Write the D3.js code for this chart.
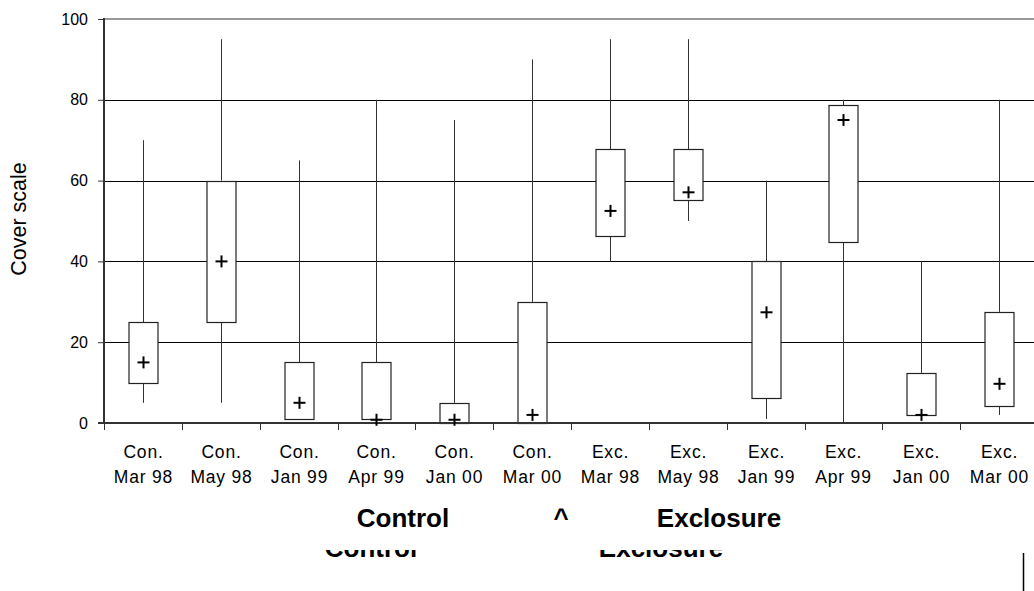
<!DOCTYPE html>
<html>
<head>
<meta charset="utf-8">
<script src="https://cdn.jsdelivr.net/npm/d3@7"></script>
<style>
	body { margin: 0; background: #fff; }
	svg { display: block; font-family: "Liberation Sans", Arial, sans-serif; }
</style>
</head>
<body>
<div id="chart"></div>
<script>
// one entry per box
const sites = ['Con.', 'Con.', 'Con.', 'Con.', 'Con.', 'Con.', 'Exc.', 'Exc.', 'Exc.', 'Exc.', 'Exc.', 'Exc.'];
const dates = ['Mar 98', 'May 98', 'Jan 99', 'Apr 99', 'Jan 00', 'Mar 00', 'Mar 98', 'May 98', 'Jan 99', 'Apr 99', 'Jan 00', 'Mar 00'];
const maxVals = [70, 95, 65, 80, 75, 90, 95, 95, 60, 80, 40, 80];
const q3Vals = [25, 60, 15, 15, 5, 30, 67.7, 67.7, 40, 78.6, 12.4, 27.5];
const q1Vals = [10, 25, 1, 1, 0, 0, 46.4, 55.2, 6.3, 44.7, 2.1, 4.1];
const minVals = [5, 5, 1, 1, 0, 0, 40, 50, 1, 0, 2.1, 2];
const meanVals = [15, 40, 5, 0.8, 0.8, 2, 52.5, 57.1, 27.4, 75, 2, 9.7];
const yTicks = [0, 20, 40, 60, 80, 100];

const width = 1034;
const height = 591;

function buildData() {
	return sites.map((s, i) => ({
		id: i,
		site: s,
		date: dates[i],
		max: maxVals[i],
		q3: q3Vals[i],
		q1: q1Vals[i],
		min: minVals[i],
		mean: meanVals[i]
	}));
}

function drawChart(data) {
	const svg = d3.select('#chart').append('svg')
		.attr('width', width)
		.attr('height', height);

	const x = d3.scaleBand()
		.domain(data.map(d => d.id))
		.range([104, 1038])
		.padding(0);

	const y = d3.scaleLinear()
		.domain([0, 100])
		.range([423, 19]);

	const cx = d => Math.round(x(d.id) + x.bandwidth() / 2) + 0.5;
	const boxW = 29;

	// gridlines
	svg.append('g')
		.selectAll('line')
		.data(yTicks.filter(t => t > 0 && t < 100))
		.enter().append('line')
		.attr('x1', 104).attr('x2', width)
		.attr('y1', d => Math.round(y(d)) + 0.5)
		.attr('y2', d => Math.round(y(d)) + 0.5)
		.attr('stroke', '#000')
		.attr('stroke-width', 1);

	// top border of plot area
	svg.append('line')
		.attr('x1', 104).attr('x2', width)
		.attr('y1', y(100)).attr('y2', y(100))
		.attr('stroke', '#999')
		.attr('stroke-width', 2);

	// whiskers
	const whisk = svg.append('g').attr('stroke', '#333').attr('stroke-width', 1);
	whisk.selectAll('.upper')
		.data(data.filter(d => d.max > d.q3))
		.enter().append('line')
		.attr('class', 'upper')
		.attr('x1', cx).attr('x2', cx)
		.attr('y1', d => y(d.max)).attr('y2', d => y(d.q3));
	whisk.selectAll('.lower')
		.data(data.filter(d => d.min < d.q1))
		.enter().append('line')
		.attr('class', 'lower')
		.attr('x1', cx).attr('x2', cx)
		.attr('y1', d => y(d.q1)).attr('y2', d => y(d.min));

	// boxes
	svg.append('g')
		.selectAll('rect')
		.data(data)
		.enter().append('rect')
		.attr('x', d => cx(d) - boxW / 2)
		.attr('y', d => Math.round(y(d.q3)) + 0.5)
		.attr('width', boxW)
		.attr('height', d => Math.round(y(d.q1)) - Math.round(y(d.q3)))
		.attr('fill', '#fff')
		.attr('stroke', '#222')
		.attr('stroke-width', 1.2);

	// axes
	const yAxis = svg.append('g')
		.attr('transform', 'translate(104,0)')
		.call(d3.axisLeft(y).tickValues(yTicks).tickSize(6).tickPadding(10).tickFormat(d3.format('d')));
	yAxis.select('.domain').remove();
	yAxis.selectAll('.tick line').attr('stroke', '#333');
	yAxis.selectAll('.tick text')
		.attr('font-size', 16)
		.attr('font-family', '"Liberation Sans", Arial, sans-serif')
		.attr('fill', '#000');

	const xAxis = svg.append('g')
		.attr('transform', 'translate(0,423)');
	xAxis.selectAll('line')
		.data(d3.range(data.length + 1))
		.enter().append('line')
		.attr('x1', i => Math.round(104 + i * x.step()) + 0.5)
		.attr('x2', i => Math.round(104 + i * x.step()) + 0.5)
		.attr('y1', 0).attr('y2', 7)
		.attr('stroke', '#333');

	svg.append('line')
		.attr('x1', 104).attr('x2', 104)
		.attr('y1', y(100) - 1).attr('y2', y(0) + 1)
		.attr('stroke', '#333')
		.attr('stroke-width', 2);
	svg.append('line')
		.attr('x1', 98).attr('x2', width)
		.attr('y1', y(0)).attr('y2', y(0))
		.attr('stroke', '#333')
		.attr('stroke-width', 2);

	// means
	const plus = svg.append('g').attr('stroke', '#000').attr('stroke-width', 2);
	plus.selectAll('.h')
		.data(data)
		.enter().append('line')
		.attr('x1', d => cx(d) - 6).attr('x2', d => cx(d) + 6)
		.attr('y1', d => y(d.mean)).attr('y2', d => y(d.mean));
	plus.selectAll('.v')
		.data(data)
		.enter().append('line')
		.attr('x1', cx).attr('x2', cx)
		.attr('y1', d => y(d.mean) - 6).attr('y2', d => y(d.mean) + 6);

	// category labels
	const labels = svg.append('g')
		.attr('font-size', 17.5)
		.attr('letter-spacing', 0.8)
		.attr('text-anchor', 'middle')
		.attr('fill', '#000');
	labels.selectAll('text')
		.data(data)
		.enter().append('text')
		.each(function(d) {
			const t = d3.select(this);
			t.append('tspan').attr('x', cx(d)).attr('y', 458).text(d.site);
			t.append('tspan').attr('x', cx(d)).attr('y', 483).text(d.date);
		});

	// y title
	svg.append('text')
		.attr('transform', 'translate(26,219) rotate(-90)')
		.attr('text-anchor', 'middle')
		.attr('font-size', 21.5)
		.text('Cover scale');

	// group titles
	const groups = svg.append('g')
		.attr('font-size', 26)
		.attr('font-weight', 'bold')
		.attr('text-anchor', 'middle');
	groups.append('text').attr('x', 403).attr('y', 527).text('Control');
	groups.append('text').attr('x', 561).attr('y', 527).text('^');
	groups.append('text').attr('x', 719).attr('y', 527).text('Exclosure');

	// leftover copy of the group titles, only the bottom strip shows
	const cutTop = 550;
	const ghost = svg.append('svg')
		.attr('x', 0).attr('y', cutTop)
		.attr('width', width).attr('height', height - cutTop)
		.attr('overflow', 'hidden')
		.append('g')
		.attr('font-size', 26)
		.attr('font-weight', 'bold')
		.attr('text-anchor', 'middle');
	ghost.append('text').attr('x', 371).attr('y', 556.5 - cutTop).text('Control');
	ghost.append('text').attr('x', 661).attr('y', 557 - cutTop).text('Exclosure');

	svg.append('line')
		.attr('x1', 1023.5).attr('x2', 1023.5)
		.attr('y1', 553).attr('y2', height)
		.attr('stroke', '#000')
		.attr('stroke-width', 1.5);
}

drawChart(buildData());
</script>
</body>
</html>
